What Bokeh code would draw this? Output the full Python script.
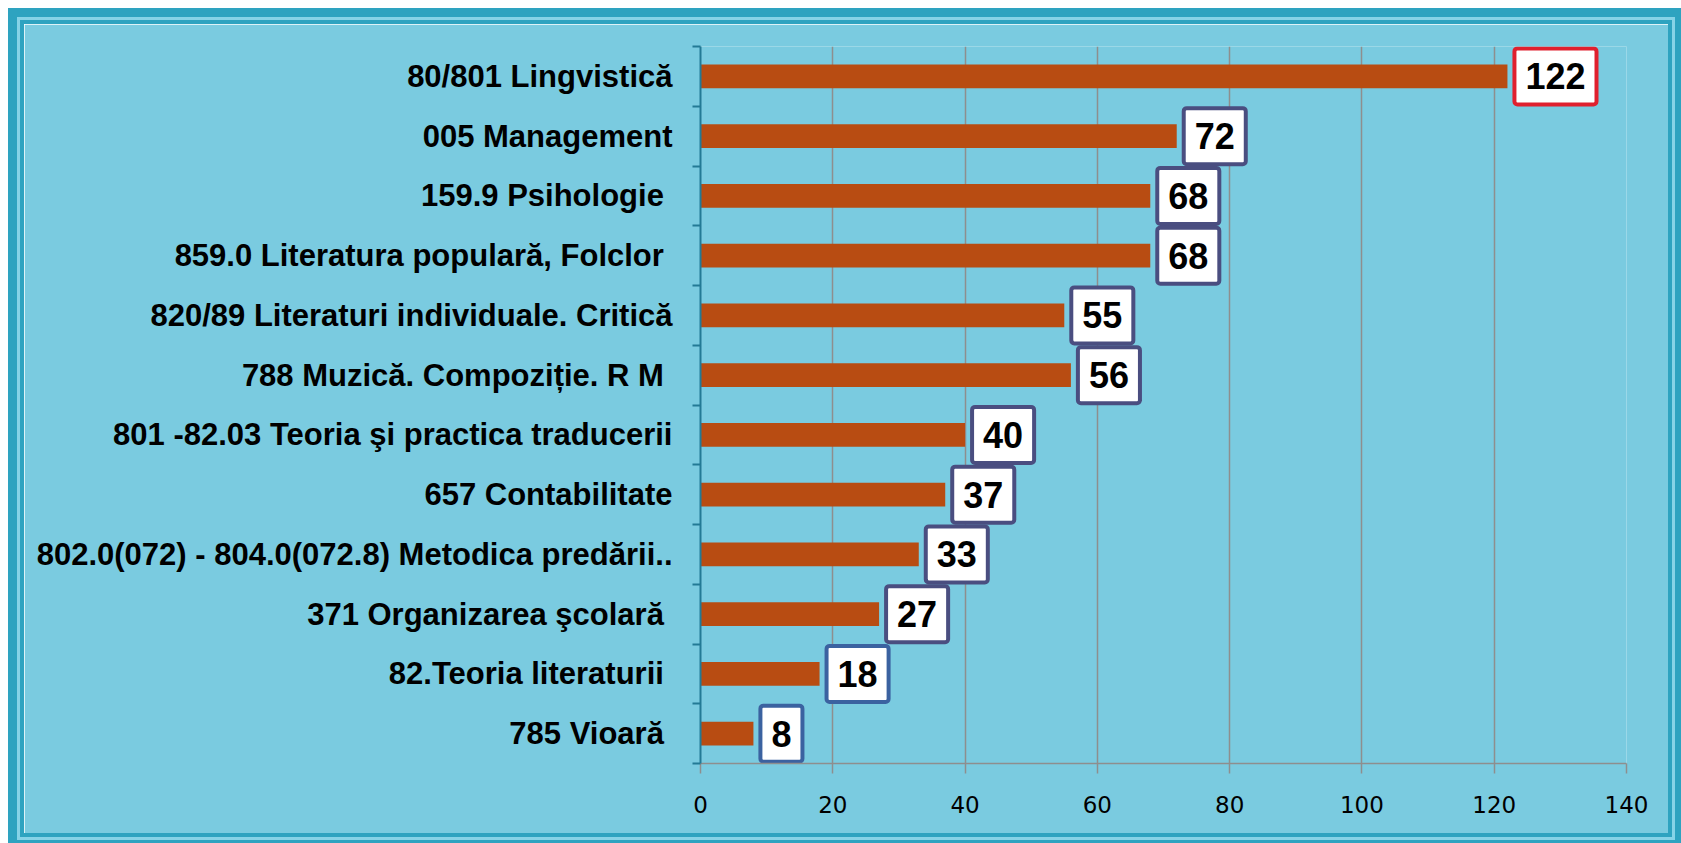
import numpy as np
from bokeh.plotting import figure
from bokeh.models import ColumnDataSource, FixedTicker, Range1d, CDSView, IndexFilter
from bokeh.core.properties import value
from bokeh.embed import file_html
from bokeh.resources import INLINE

categories = [
    "80/801 Lingvistică",
    "005 Management",
    "159.9 Psihologie\u00a0",
    "859.0  Literatura populară, Folclor",
    "820/89 Literaturi individuale. Critică",
    "788 Muzică. Compoziție. R M\u00a0",
    "801 -82.03 Teoria şi practica traducerii",
    "657 Contabilitate",
    "802.0(072) - 804.0(072.8) Metodica predării..",
    "371 Organizarea şcolară\u00a0",
    "82.Teoria literaturii\u00a0",
    "785  Vioară",
]
counts = [122, 72, 68, 68, 55, 56, 40, 37, 33, 27, 18, 8]
x_ticks = [0, 20, 40, 60, 80, 100, 120, 140]

n = len(categories)
ypos = (np.arange(n)[::-1] + 0.5).tolist()
src = ColumnDataSource(dict(y=ypos, counts=counts, labels=[str(c) for c in counts]))

BG = "#7ACBE0"
DARK = "#2EA3C0"

p = figure(width=1644, height=809, x_range=Range1d(0, 140), y_range=Range1d(0, n),
           output_backend="svg", toolbar_location=None,
           min_border_left=676, min_border_right=42, min_border_top=22, min_border_bottom=70,
           background_fill_color=BG, border_fill_color=BG, outline_line_color=None,
           margin=(24, 0, 0, 24))
p.styles = {"box-shadow": f"0 0 0 4px {DARK}, 0 0 0 7px #86D3E7, 0 0 0 16px {DARK}"}

p.hbar(y="y", left=0, right="counts", height=0.4, source=src,
       fill_color="#B84C12", line_color=None)

# data labels
groups = [([0], "#E0202E"), ([1, 2, 3, 4, 5, 6, 7, 8, 9], "#4A4E80"), ([10, 11], "#3B62A0")]
for idx, col in groups:
    p.text(x="counts", y="y", text="labels", source=src, view=CDSView(filter=IndexFilter(idx)),
           x_offset=7, text_align="left", text_baseline="middle",
           text_font=value("Liberation Sans"), text_font_style="bold", text_font_size="36px",
           text_color="black", background_fill_color="white",
           border_line_color=col, border_line_width=4, border_radius=3,
           padding=dict(left=11, right=11, top=15, bottom=15))

# x axis
p.xaxis.ticker = FixedTicker(ticks=x_ticks)
p.xaxis.axis_line_color = "#8E8E8E"
p.xaxis.axis_line_width = 1.5
p.xaxis.major_tick_line_color = "#8E8E8E"
p.xaxis.major_tick_line_width = 1.5
p.xaxis.major_tick_out = 10
p.xaxis.major_tick_in = 0
p.xaxis.minor_tick_line_color = None
p.xaxis.major_label_text_font = "DejaVu Sans"
p.xaxis.major_label_text_font_size = "23px"
p.xaxis.major_label_text_color = "black"
p.xaxis.major_label_standoff = 22

p.xgrid.ticker = FixedTicker(ticks=x_ticks)
p.xgrid.grid_line_color = "#8E8E8E"
p.xgrid.grid_line_width = 1.5
p.ygrid.grid_line_color = None

# y axis
p.yaxis.ticker = FixedTicker(ticks=ypos, minor_ticks=list(range(n + 1)))
p.yaxis.major_label_overrides = {y: c for y, c in zip(ypos, categories)}
p.yaxis.axis_line_color = "#237A95"
p.yaxis.axis_line_width = 2
p.yaxis.major_tick_line_color = None
p.yaxis.major_tick_out = 0
p.yaxis.major_tick_in = 0
p.yaxis.minor_tick_line_color = "#237A95"
p.yaxis.minor_tick_line_width = 2
p.yaxis.minor_tick_out = 8
p.yaxis.minor_tick_in = 0
p.yaxis.major_label_text_font = "Liberation Sans"
p.yaxis.major_label_text_font_style = "bold"
p.yaxis.major_label_text_font_size = "31px"
p.yaxis.major_label_text_color = "black"
p.yaxis.major_label_standoff = 20

open("out.html", "w").write(file_html(p, INLINE))
